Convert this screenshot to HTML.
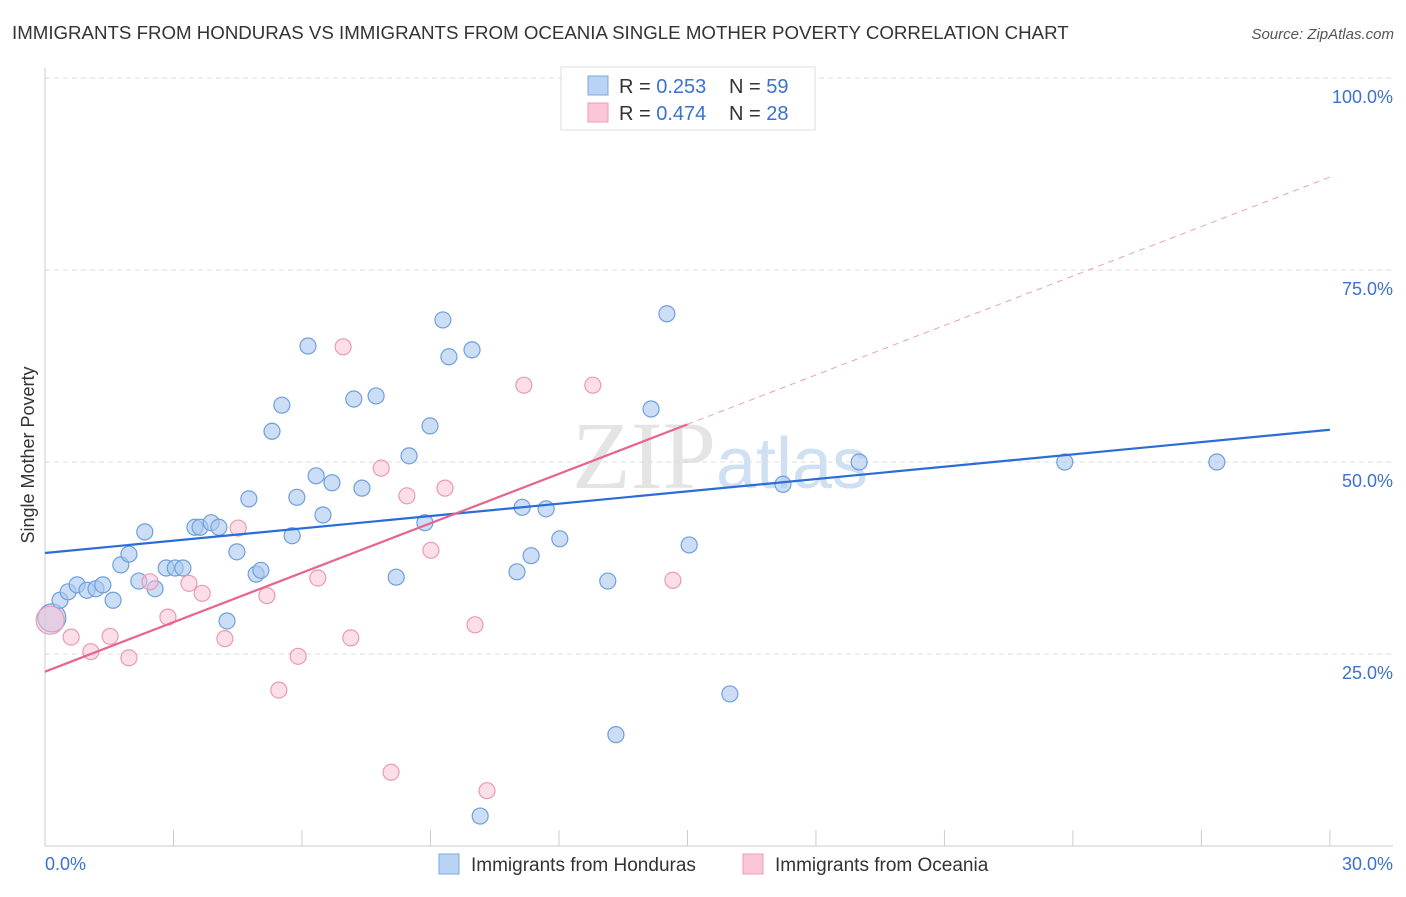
<!DOCTYPE html>
<html><head><meta charset="utf-8"><style>
body{margin:0;background:#fff;font-family:"Liberation Sans",sans-serif;}
</style></head><body>
<svg id="chart" width="1406" height="892" xmlns="http://www.w3.org/2000/svg">
<text x="12" y="39" font-size="18.7" fill="#333">IMMIGRANTS FROM HONDURAS VS IMMIGRANTS FROM OCEANIA SINGLE MOTHER POVERTY CORRELATION CHART</text>
<text x="1394" y="39" font-size="15" fill="#555" font-style="italic" text-anchor="end">Source: ZipAtlas.com</text>
<text x="720" y="488" font-size="96" fill="#e4e4e4" text-anchor="middle" font-family="Liberation Serif,serif">ZIP<tspan fill="#cfe0f3" font-family="Liberation Sans,sans-serif" font-size="72">atlas</tspan></text>
<text transform="translate(34,455) rotate(-90)" font-size="18" fill="#333" text-anchor="middle">Single Mother Poverty</text>
<g id="grid"></g><g id="marks"></g>
<g>
<rect x="561" y="67" width="254" height="63" fill="#fff" stroke="#ddd"/>
<rect x="588" y="76" width="20" height="19" fill="#b9d3f5" stroke="#7aa8e0"/>
<rect x="588" y="103" width="20" height="19" fill="#fbc6d6" stroke="#ef9ab7"/>
<text x="619" y="93" font-size="20" fill="#333">R = <tspan fill="#3a72d0">0.253</tspan></text>
<text x="729" y="93" font-size="20" fill="#333">N = <tspan fill="#3a72d0">59</tspan></text>
<text x="619" y="120" font-size="20" fill="#333">R = <tspan fill="#3a72d0">0.474</tspan></text>
<text x="729" y="120" font-size="20" fill="#333">N = <tspan fill="#3a72d0">28</tspan></text>
</g>
<g>
<rect x="439" y="854" width="20" height="20" fill="#b9d3f5" stroke="#7aa8e0"/>
<text x="471" y="871" font-size="19" fill="#333">Immigrants from Honduras</text>
<rect x="743" y="854" width="20" height="20" fill="#fbc6d6" stroke="#ef9ab7"/>
<text x="775" y="871" font-size="19" fill="#333">Immigrants from Oceania</text>
</g>
</svg>
<script>
const blueX=[0.16,0.35,0.54,0.75,0.98,1.19,1.35,1.59,1.77,1.96,2.19,2.33,2.57,2.83,3.04,3.22,3.50,3.62,3.88,4.06,4.25,4.48,4.76,4.93,5.04,5.30,5.53,5.77,5.88,6.14,6.33,6.49,6.70,7.21,7.40,7.73,8.20,8.50,8.87,8.99,9.29,9.43,9.97,10.16,11.02,11.14,11.35,11.70,12.02,13.14,13.33,14.15,14.52,15.04,15.99,17.23,19.01,23.81,27.36];
const blueY=[29.7,32.0,33.1,34.0,33.3,33.5,34.0,32.0,36.6,38.0,34.5,40.9,33.5,36.2,36.2,36.2,41.5,41.5,42.1,41.5,29.3,38.3,45.2,35.4,35.9,54.0,57.4,40.4,45.4,65.1,48.2,43.1,47.3,58.2,46.6,58.6,35.0,50.8,42.1,54.7,68.5,63.7,64.6,3.9,35.7,44.1,37.8,43.9,40.0,34.5,14.5,56.9,69.3,39.2,19.8,47.1,50.0,50.0,50.0];
const pinkX=[0.12,0.61,1.07,1.52,1.96,2.45,2.87,3.36,3.67,4.20,4.51,5.18,5.46,5.91,6.37,6.96,7.14,7.85,8.08,8.45,9.01,9.34,10.04,10.32,11.18,12.79,13.73,14.66];
const pinkY=[29.4,27.2,25.3,27.3,24.5,34.4,29.8,34.2,32.9,27.0,41.4,32.6,20.3,24.7,34.9,65.0,27.1,49.2,9.6,45.6,38.5,46.6,28.8,7.2,60.0,60.0,99.9,34.6];
const yTicks=[25,50,75,100];
const xTickLabels=["0.0%","30.0%"];
const blueTrend=[38.15,54.2];
const pinkTrend=[22.7,54.9,87.1];
const NS="http://www.w3.org/2000/svg";
const sx=v=>45+v*42.83, sy=v=>846-v*7.68;
function mk(t,a,p){const e=document.createElementNS(NS,t);for(const k in a)e.setAttribute(k,a[k]);p.appendChild(e);return e;}
const g=document.getElementById('grid'), m=document.getElementById('marks');
yTicks.forEach(t=>{
 const l=mk('line',{x1:45,x2:1393,y1:sy(t),y2:sy(t),stroke:'#ddd','stroke-dasharray':'5,4'},g);
 
 
 const tx=mk('text',{x:1393,y:sy(t)+25,'font-size':18,fill:'#3a72d0','text-anchor':'end'},g);
 tx.textContent=t.toFixed(1)+'%';
 
 
});
mk('line',{x1:45,x2:45,y1:68,y2:846,stroke:'#ccc'},g);
mk('line',{x1:45,x2:1393,y1:846,y2:846,stroke:'#ccc'},g);
for(let i=1;i<=10;i++){const l=mk('line',{x1:sx(i*3),x2:sx(i*3),y1:830,y2:846,stroke:'#ccc'},g);
 
 }
[[0,45,'start'],[30,1393,'end']].forEach((d,i)=>{const t=mk('text',{x:d[1],y:870,'font-size':18,fill:'#3a72d0','text-anchor':d[2]},g);t.textContent=xTickLabels[i];
 
 });
function pts(X,Y,fill,stroke,name){X.forEach((x,i)=>{const r=i===0?14:8;
 const c=mk('circle',{cx:sx(x),cy:sy(Y[i]),r:r,fill:fill,stroke:stroke,'stroke-width':1.2},m);
 
 });}
pts(blueX,blueY,'rgba(170,200,240,0.6)','#6f9fdc','point-honduras');
pts(pinkX,pinkY,'rgba(250,190,210,0.5)','#e99ab6','point-oceania');
const bl=mk('line',{x1:sx(0),y1:sy(blueTrend[0]),x2:sx(30),y2:sy(blueTrend[1]),stroke:'#2a6dd6','stroke-width':2.2},m);


const pl=mk('line',{x1:sx(0),y1:sy(pinkTrend[0]),x2:sx(15),y2:sy(pinkTrend[1]),stroke:'#e8638f','stroke-width':2.2},m);


const pd=mk('line',{x1:sx(15),y1:sy(pinkTrend[1]),x2:sx(30),y2:sy(pinkTrend[2]),stroke:'#eaa0b8','stroke-width':1,'stroke-dasharray':'6,5'},m);


</script>
</body></html>
